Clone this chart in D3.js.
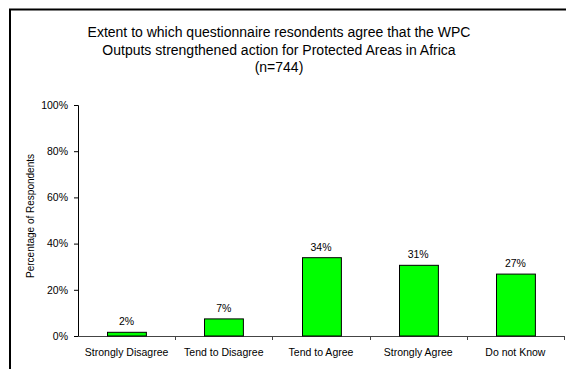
<!DOCTYPE html>
<html>
<head>
<meta charset="utf-8">
<script src="https://cdn.jsdelivr.net/npm/d3@7"></script>
<style>
  html, body { margin: 0; padding: 0; background: #fff; }
  svg { display: block; font-family: "Liberation Sans", Arial, sans-serif; }
</style>
</head>
<body>
<svg id="chart" width="566" height="369"></svg>
<script>
// Survey responses (share of respondents)
const categories = ["Strongly Disagree", "Tend to Disagree", "Tend to Agree", "Strongly Agree", "Do not Know"];
const shares = [0.016, 0.074, 0.339, 0.306, 0.268];
const yTicks = [0, 0.2, 0.4, 0.6, 0.8, 1.0];
const titleLines = [
  "Extent to which questionnaire resondents agree that the WPC",
  "Outputs strengthened action for Protected Areas in Africa",
  "(n=744)"
];
const yLabel = "Percentage of Respondents";

const svg = d3.select("#chart");
const W = 566, H = 369;

// Frame around the chart area (runs off the right and bottom edges)
svg.append("rect")
  .attr("x", 10).attr("y", 9.5)
  .attr("width", W + 20).attr("height", H + 20)
  .attr("fill", "none").attr("stroke", "#000").attr("stroke-width", 2);

const plot = { left: 78, right: 564, top: 105, bottom: 336 };

const x = d3.scaleBand()
  .domain(categories)
  .range([plot.left, plot.right])
  .paddingInner(0.6).paddingOuter(0.3);

const xOuter = d3.scaleBand().domain(categories).range([plot.left, plot.right]);

const y = d3.scaleLinear().domain([0, 1]).range([plot.bottom, plot.top]);

// Title
svg.append("g").selectAll("text")
  .data(titleLines)
  .join("text")
  .attr("x", 279)
  .attr("y", (d, i) => 37 + i * 17.5)
  .attr("text-anchor", "middle")
  .attr("font-size", 14)
  .attr("fill", "#000")
  .text(d => d);

// Y axis
const yAxis = svg.append("g")
  .attr("transform", `translate(${plot.left},0)`)
  .call(d3.axisLeft(y).tickValues(yTicks).tickFormat(d3.format(".0%")).tickSize(4).tickPadding(6));
yAxis.select(".domain").attr("stroke", "#000");
yAxis.selectAll(".tick line").attr("stroke", "#000");
yAxis.selectAll("text").attr("font-size", 10.5).attr("font-family", "Liberation Sans, Arial, sans-serif").attr("fill", "#000");

// Y axis title
svg.append("text")
  .attr("transform", "translate(34,216) rotate(-90)")
  .attr("text-anchor", "middle")
  .attr("font-size", 10)
  .attr("fill", "#000")
  .text(yLabel);

// X axis line with ticks between categories
const xg = svg.append("g");
xg.append("line")
  .attr("x1", plot.left).attr("x2", plot.right)
  .attr("y1", plot.bottom + 0.5).attr("y2", plot.bottom + 0.5)
  .attr("stroke", "#444");
xg.selectAll("line.tick")
  .data(categories)
  .join("line")
  .attr("class", "tick")
  .attr("x1", d => Math.round(xOuter(d) + xOuter.bandwidth()) + 0.5)
  .attr("x2", d => Math.round(xOuter(d) + xOuter.bandwidth()) + 0.5)
  .attr("y1", plot.bottom).attr("y2", plot.bottom + 4)
  .attr("stroke", "#444");
xg.selectAll("text")
  .data(categories)
  .join("text")
  .attr("x", d => xOuter(d) + xOuter.bandwidth() / 2)
  .attr("y", 356)
  .attr("text-anchor", "middle")
  .attr("font-size", 10.5)
  .attr("fill", "#000")
  .text(d => d);

// Bars
const data = categories.map((c, i) => ({ c, v: shares[i] }));
svg.append("g").selectAll("rect")
  .data(data)
  .join("rect")
  .attr("x", d => Math.round(x(d.c)) + 0.5)
  .attr("y", d => y(d.v))
  .attr("width", x.bandwidth())
  .attr("height", d => y(0) - y(d.v))
  .attr("fill", "#00ff00")
  .attr("stroke", "#000")
  .attr("stroke-width", 1);

// Value labels
svg.append("g").selectAll("text")
  .data(data)
  .join("text")
  .attr("x", d => x(d.c) + x.bandwidth() / 2)
  .attr("y", d => y(d.v) - 7)
  .attr("text-anchor", "middle")
  .attr("font-size", 10.5)
  .attr("fill", "#000")
  .text(d => d3.format(".0%")(d.v));
</script>
</body>
</html>
